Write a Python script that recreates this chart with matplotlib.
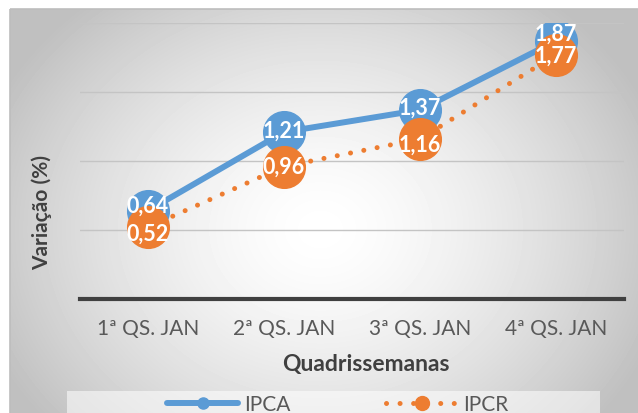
import numpy as np
import matplotlib.pyplot as plt
from matplotlib.lines import Line2D
from matplotlib.patches import Rectangle

plt.rcParams['font.family'] = ['Lato', 'DejaVu Sans']

# ── Dados ──────────────────────────────────────────────────
categorias = ['1ª QS. JAN', '2ª QS. JAN', '3ª QS. JAN', '4ª QS. JAN']
ipca = [0.64, 1.21, 1.37, 1.87]
ipcr = [0.52, 0.96, 1.16, 1.77]
# deslocamento vertical dos rótulos (pixels) para evitar sobreposição
off_ipca = [5, 2, 3, 8]
off_ipcr = [-6, 0, -5, 0]

AZUL = '#5B9BD5'
LARANJA = '#ED7D31'

W, H = 638, 414
fig = plt.figure(figsize=(W / 100, H / 100), dpi=100)

# ── Fundo com gradiente radial ─────────────────────────────
bg = fig.add_axes([0, 0, 1, 1])
bg.set_xlim(0, W)
bg.set_ylim(H, 0)
bg.axis('off')
yy, xx = np.mgrid[10:H, 10:W]
r = np.sqrt(((xx - 320) / 360.0) ** 2 + ((yy - 230) / 300.0) ** 2)
val = 1 - 0.25 * np.clip(r, 0, 1) ** 1.5
bg.imshow(val, cmap='gray', vmin=0, vmax=1, extent=(10, W, H, 10),
          aspect='auto', interpolation='bilinear')
bg.add_patch(Rectangle((10, 10), W, H, fill=False, edgecolor='#bdbdbd', lw=1.2))
# caixa da legenda
bg.add_patch(Rectangle((67, 392), 533, 30, facecolor='white', alpha=0.55, lw=0))

# ── Gráfico ────────────────────────────────────────────────
ax = fig.add_axes([80 / W, 1 - 300 / H, 544 / W, 276 / H])
ax.patch.set_alpha(0)
x = np.arange(len(categorias))

ax.plot(x, ipca, color=AZUL, lw=4.3, marker='o', ms=30,
        solid_capstyle='round', zorder=3, label='IPCA')
ax.plot(x, ipcr, color=LARANJA, lw=3.6, linestyle=(0, (0.01, 2.7)),
        dash_capstyle='round', marker='o', ms=30, zorder=4, label='IPCR')

for xi, v, o in zip(x, ipca, off_ipca):
    ax.annotate(f'{v:.2f}'.replace('.', ','), (xi, v), xytext=(0, o * 0.72),
                textcoords='offset points', ha='center', va='center',
                color='white', fontsize=15.5, fontweight='bold', zorder=6)
for xi, v, o in zip(x, ipcr, off_ipcr):
    ax.annotate(f'{v:.2f}'.replace('.', ','), (xi, v), xytext=(0, o * 0.72),
                textcoords='offset points', ha='center', va='center',
                color='white', fontsize=15.5, fontweight='bold', zorder=6)

ax.set_xlim(-0.5, 3.5)
ax.set_ylim(0, 2)
ax.set_yticks([0, 0.5, 1, 1.5, 2])
ax.set_yticklabels([])
ax.tick_params(axis='y', length=0)
ax.grid(axis='y', color='#c4c4c4', lw=1)
ax.set_axisbelow(True)
ax.set_xticks(x)
ax.set_xticklabels(categorias, fontsize=15, color='#595959')
ax.tick_params(axis='x', length=0, pad=14)
for s in ['top', 'right', 'left']:
    ax.spines[s].set_visible(False)
ax.spines['bottom'].set_color('#404040')
ax.spines['bottom'].set_linewidth(3)
ax.spines['bottom'].set_zorder(2)

fig.text(42 / W, 1 - 212 / H, 'Variação (%)', rotation=90, ha='center', va='center',
         fontsize=15, fontweight='bold', color='#404040')
fig.text(366 / W, 1 - 365 / H, 'Quadrissemanas', ha='center', va='center',
         fontsize=16.5, fontweight='bold', color='#404040')

handles = [
    Line2D([], [], color=AZUL, lw=4.3, marker='o', ms=8, solid_capstyle='round'),
    Line2D([], [], color=LARANJA, lw=3.6, linestyle=(0, (0.01, 2.7)),
           dash_capstyle='round', marker='o', ms=10),
]
fig.legend(handles, ['IPCA', 'IPCR'], ncol=2, frameon=False, loc='center',
           bbox_to_anchor=(338 / W, 1 - 405 / H), fontsize=15,
           handlelength=3.4, handletextpad=0.3, columnspacing=4.6,
           labelcolor='#595959')

plt.savefig('out.png', dpi=100)
